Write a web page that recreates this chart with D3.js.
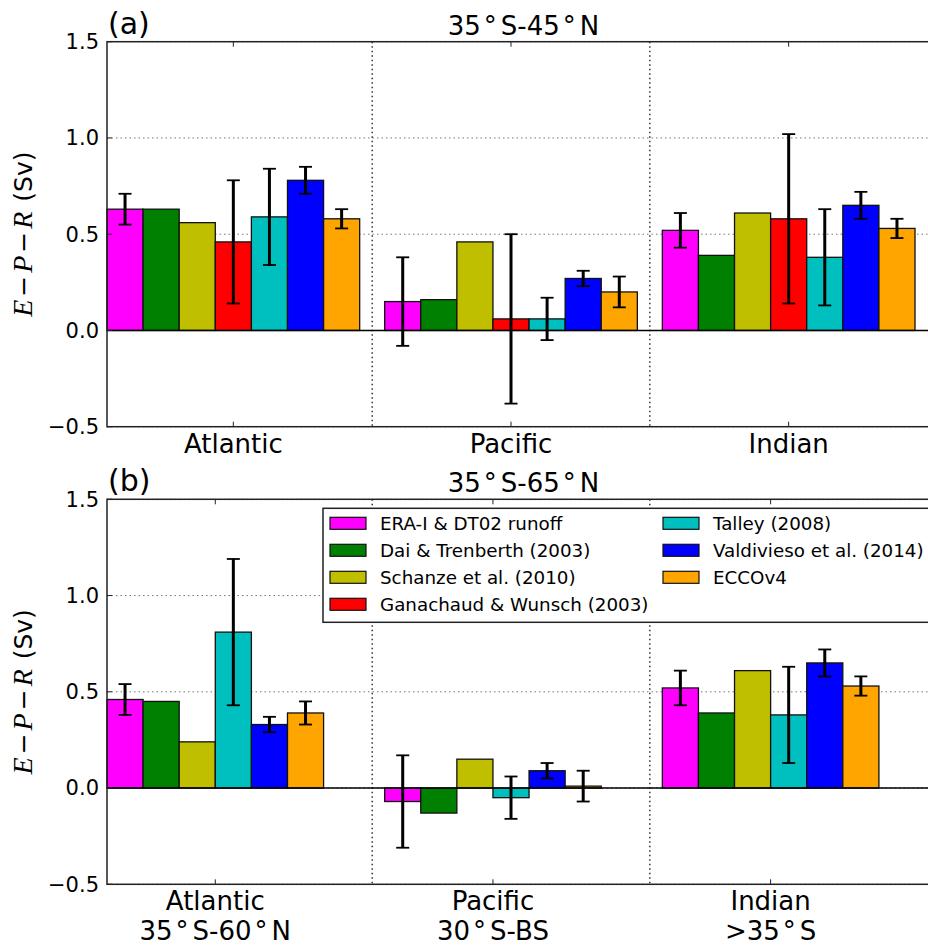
<!DOCTYPE html>
<html>
<head>
<meta charset="utf-8">
<script src="https://cdn.jsdelivr.net/npm/d3@7"></script>
<style>
body { margin: 0; background: #fff; }
text { font-family: "DejaVu Sans", sans-serif; fill: #000; }
</style>
</head>
<body>
<svg id="chart"></svg>
<script>
const series = ["ERA-I & DT02 runoff", "Dai & Trenberth (2003)", "Schanze et al. (2010)",
  "Ganachaud & Wunsch (2003)", "Talley (2008)", "Valdivieso et al. (2014)", "ECCOv4"];
const colors = ["#ff00ff", "#008000", "#bfbf00", "#ff0000", "#00bfbf", "#0000ff", "#ffa500"];

const basinsA = [["Atlantic"], ["Pacific"], ["Indian"]];
const basinsB = [["Atlantic", "35°S-60°N"], ["Pacific", "30°S-BS"], ["Indian", ">35°S"]];

// one row per series, columns = Atlantic, Pacific, Indian (null = no estimate)
const valuesA = [
  [0.63, 0.15, 0.52],
  [0.63, 0.16, 0.39],
  [0.56, 0.46, 0.61],
  [0.46, 0.06, 0.58],
  [0.59, 0.06, 0.38],
  [0.78, 0.27, 0.65],
  [0.58, 0.20, 0.53]
];
const errorsA = [
  [0.08, 0.23, 0.09],
  [null, null, null],
  [null, null, null],
  [0.32, 0.44, 0.44],
  [0.25, 0.11, 0.25],
  [0.07, 0.04, 0.07],
  [0.05, 0.08, 0.05]
];
const valuesB = [
  [0.46, -0.07, 0.52],
  [0.45, -0.13, 0.39],
  [0.24, 0.15, 0.61],
  [null, null, null],
  [0.81, -0.05, 0.38],
  [0.33, 0.09, 0.65],
  [0.39, 0.01, 0.53]
];
const errorsB = [
  [0.08, 0.24, 0.09],
  [null, null, null],
  [null, null, null],
  [null, null, null],
  [0.38, 0.11, 0.25],
  [0.04, 0.04, 0.07],
  [0.06, 0.08, 0.05]
];
const yTicks = [-0.5, 0.0, 0.5, 1.0, 1.5];
const separators = [0.5, 1.5];

const W = 928, H = 947;
const barW = 0.13, groupStart = -0.455;

const svg = d3.select("#chart").attr("width", W).attr("height", H);

const x = d3.scaleLinear().domain([-0.455, 2.545]).range([107, 940]);

// text with "°" drawn as a raised ring, like mathtext ^\circ
function degText(sel, str) {
  const parts = str.split("°");
  parts.forEach((p, i) => {
    if (i > 0) {
      sel.append("tspan").attr("dx", 3).text("°");
      sel.append("tspan").attr("dx", 4).text(p);
    } else {
      sel.append("tspan").text(p);
    }
  });
}

function panel(top, letter, title, basins, values, errors, legend) {
  const y = d3.scaleLinear().domain([-0.5, 1.5]).range([top + 385, top]);
  const g = svg.append("g");
  const x0 = x.range()[0], x1 = x.range()[1];

  // grid
  g.selectAll(".grid").data(yTicks).enter().append("line")
    .attr("x1", x0).attr("x2", x1)
    .attr("y1", d => y(d)).attr("y2", d => y(d))
    .attr("stroke", "#777").attr("stroke-width", 1)
    .attr("stroke-dasharray", "1.5,3");

  g.selectAll(".sep").data(separators).enter().append("line")
    .attr("x1", d => x(d)).attr("x2", d => x(d))
    .attr("y1", y(1.5)).attr("y2", y(-0.5))
    .attr("stroke", "#000").attr("stroke-width", 1.2)
    .attr("stroke-dasharray", "1.5,3");

  // bars
  const bars = [];
  const tickPos = [];
  basins.forEach((b, j) => {
    let k = 0;
    series.forEach((s, i) => {
      const v = values[i][j];
      if (v === null) return;
      bars.push({ left: j + groupStart + k * barW, v: v, e: errors[i][j], c: colors[i] });
      k++;
    });
    tickPos.push(j + groupStart + k * barW / 2);
  });

  g.selectAll(".bar").data(bars).enter().append("rect")
    .attr("x", d => x(d.left))
    .attr("width", d => x(d.left + barW) - x(d.left))
    .attr("y", d => y(Math.max(0, d.v)))
    .attr("height", d => Math.abs(y(d.v) - y(0)))
    .attr("fill", d => d.c)
    .attr("stroke", "#111").attr("stroke-width", 1.3);

  g.append("line")
    .attr("x1", x0).attr("x2", x1).attr("y1", y(0)).attr("y2", y(0))
    .attr("stroke", "#000").attr("stroke-width", 1.5);

  const eb = bars.filter(d => d.e !== null);
  const cx = d => x(d.left + barW / 2);
  g.selectAll(".err").data(eb).enter().append("line")
    .attr("x1", cx).attr("x2", cx)
    .attr("y1", d => y(d.v - d.e)).attr("y2", d => y(d.v + d.e))
    .attr("stroke", "#000").attr("stroke-width", 3);
  [1, -1].forEach(sgn => {
    g.selectAll(".cap" + sgn).data(eb).enter().append("line")
      .attr("x1", d => cx(d) - 6.5).attr("x2", d => cx(d) + 6.5)
      .attr("y1", d => y(d.v + sgn * d.e)).attr("y2", d => y(d.v + sgn * d.e))
      .attr("stroke", "#000").attr("stroke-width", 1.8);
  });

  // frame
  g.append("rect")
    .attr("x", x0).attr("y", y(1.5))
    .attr("width", x1 - x0).attr("height", y(-0.5) - y(1.5))
    .attr("fill", "none").attr("stroke", "#222").attr("stroke-width", 1.5);

  // ticks (inward, both sides)
  g.selectAll(".xtb").data(tickPos).enter().append("line")
    .attr("x1", d => x(d)).attr("x2", d => x(d))
    .attr("y1", y(-0.5)).attr("y2", y(-0.5) - 5)
    .attr("stroke", "#222");
  g.selectAll(".xtt").data(tickPos).enter().append("line")
    .attr("x1", d => x(d)).attr("x2", d => x(d))
    .attr("y1", y(1.5)).attr("y2", y(1.5) + 5)
    .attr("stroke", "#222");
  g.selectAll(".yt").data(yTicks).enter().append("line")
    .attr("x1", x0).attr("x2", x0 + 5)
    .attr("y1", d => y(d)).attr("y2", d => y(d))
    .attr("stroke", "#222");

  g.selectAll(".ylab").data(yTicks).enter().append("text")
    .attr("x", x0 - 8).attr("y", d => y(d)).attr("dy", "0.35em")
    .attr("text-anchor", "end").attr("font-size", 21)
    .text(d => d3.format(".1f")(d).replace("-", "\u2212"));

  basins.forEach((b, j) => {
    b.forEach((line, li) => {
      const t = g.append("text")
        .attr("x", x(tickPos[j])).attr("y", y(-0.5) + 26 + li * 30)
        .attr("text-anchor", "middle").attr("font-size", 26);
      degText(t, line);
    });
  });

  // titles
  g.append("text").attr("x", x0 + 1).attr("y", top - 8)
    .attr("font-size", 30).text(letter);
  const tt = g.append("text").attr("x", (x0 + x1) / 2).attr("y", top - 7)
    .attr("text-anchor", "middle").attr("font-size", 26);
  degText(tt, title);

  // y label
  const yl = g.append("text")
    .attr("transform", `translate(32,${(y(1.5) + y(-0.5)) / 2}) rotate(-90)`)
    .attr("text-anchor", "middle").attr("font-size", 25);
  const it = (s, dx) => yl.append("tspan").attr("dx", dx)
    .style("font-family", "'Liberation Serif', serif").style("font-style", "italic")
    .attr("font-size", 28).text(s);
  it("E", 0);
  yl.append("tspan").attr("dx", 3).text("\u2212");
  it("P", 3);
  yl.append("tspan").attr("dx", 3).text("\u2212");
  it("R", 3);
  yl.append("tspan").attr("dx", 2).text(" (Sv)");

  if (legend) {
    const lg = g.append("g");
    lg.append("rect")
      .attr("x", 323).attr("y", top + 9)
      .attr("width", 640).attr("height", 114)
      .attr("fill", "#fff").attr("stroke", "#222").attr("stroke-width", 1.5);
    series.forEach((s, i) => {
      const col = i < 4 ? 0 : 1, row = i < 4 ? i : i - 4;
      const px = col ? 663 : 330;
      const cy = top + 24 + row * 27;
      lg.append("rect").attr("x", px).attr("y", cy - 6)
        .attr("width", 36).attr("height", 12)
        .attr("fill", colors[i]).attr("stroke", "#111").attr("stroke-width", 1.2);
      lg.append("text").attr("x", px + 50).attr("y", cy + 6.5)
        .attr("font-size", 18.3).attr("fill", "#111").text(s);
    });
  }
}

svg.append("rect").attr("width", W).attr("height", H).attr("fill", "#fff");
panel(41.7, "(a)", "35°S-45°N", basinsA, valuesA, errorsA, false);
panel(499.3, "(b)", "35°S-65°N", basinsB, valuesB, errorsB, true);
</script>
</body>
</html>
